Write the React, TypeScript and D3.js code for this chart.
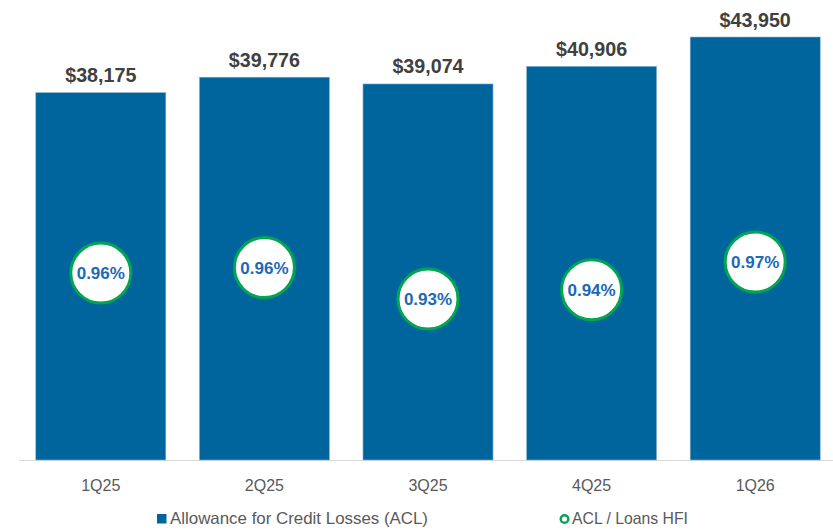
import React from "react";
import * as d3 from "d3";

const categories = ["1Q25", "2Q25", "3Q25", "4Q25", "1Q26"];
const aclValues = [38175, 39776, 39074, 40906, 43950];
const ratioValues = [0.958, 0.964, 0.93, 0.94, 0.97];
const ratioLabels = ["0.96%", "0.96%", "0.93%", "0.94%", "0.97%"];
const legendLabels = ["Allowance for Credit Losses (ACL)", "ACL / Loans HFI"];

const W = 833;
const H = 530;
const FONT = "'Liberation Sans', Arial, sans-serif";
const BAR = "#00659C";
const GREEN = "#00A651";

export default function App() {
  const x = d3.scaleBand<string>().domain(categories).range([19, 837]).paddingInner(0.205).paddingOuter(0.1025);
  const y = d3.scaleLinear().domain([0, 43950]).range([460, 37]);
  const y2 = d3.scaleLinear().domain([0.93, 0.97]).range([299, 262]);
  const fmt = (v: number) => "$" + d3.format(",")(v);

  return (
    <svg width={W} height={H} style={{ position: "absolute", left: 0, top: 0, background: "#fff" }}>
      <line x1={19} x2={833} y1={y(0) + 0.5} y2={y(0) + 0.5} stroke="#d9d9d9" strokeWidth={1} />
      {categories.map((c, i) => {
        const bx = x(c)!;
        const bw = x.bandwidth();
        const cx = bx + bw / 2;
        return (
          <g key={c}>
            <rect x={bx} y={y(aclValues[i])} width={bw} height={y(0) - y(aclValues[i])} fill={BAR} stroke="#8fb8d3" strokeWidth={0.6} />
            <text x={cx} y={y(aclValues[i]) - 10.5} textAnchor="middle" fontFamily={FONT} fontWeight="bold" fontSize={19.7} fill="#404040">
              {fmt(aclValues[i])}
            </text>
            <text x={cx} y={491} textAnchor="middle" fontFamily={FONT} fontSize={16} fill="#595959">
              {c}
            </text>
            <circle cx={cx} cy={y2(ratioValues[i])} r={30} fill="#fff" stroke={GREEN} strokeWidth={3} />
            <text x={cx} y={y2(ratioValues[i])} dy="0.36em" textAnchor="middle" fontFamily={FONT} fontWeight="bold" fontSize={17} fill="#1C69B4">
              {ratioLabels[i]}
            </text>
          </g>
        );
      })}
      <g>
        <rect x={157} y={514} width={9.5} height={9.5} fill={BAR} />
        <text x={170} y={524} fontFamily={FONT} fontSize={16.5} fill="#595959" textLength={258} lengthAdjust="spacingAndGlyphs">{legendLabels[0]}</text>
        <circle cx={564.5} cy={519} r={3.8} fill="#fff" stroke={GREEN} strokeWidth={2.4} />
        <text x={572} y={524} fontFamily={FONT} fontSize={16.5} fill="#595959" textLength={116} lengthAdjust="spacingAndGlyphs">{legendLabels[1]}</text>
      </g>
    </svg>
  );
}
